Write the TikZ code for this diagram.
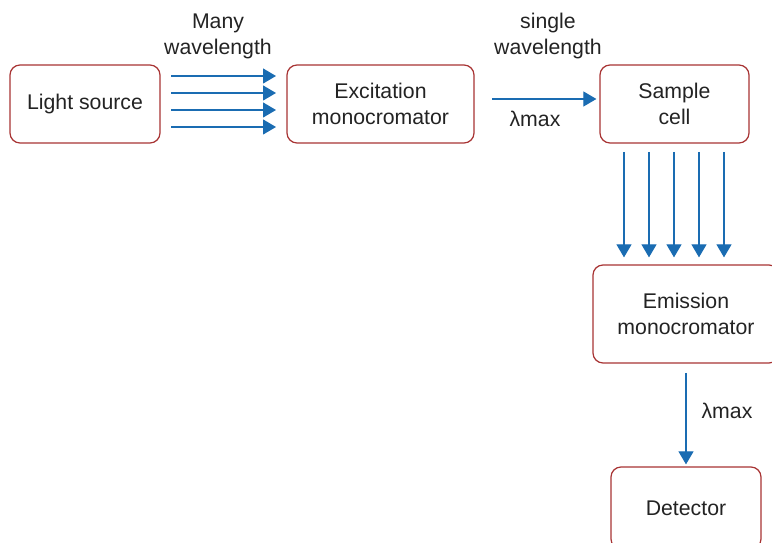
\documentclass[tikz,border=0pt]{standalone}
\usepackage{fontspec}
\setmainfont{Liberation Sans}
\usepackage{tikz}
\usetikzlibrary{arrows.meta}
\definecolor{boxred}{RGB}{168,52,52}
\definecolor{rayblue}{RGB}{26,108,178}
\definecolor{inkgrey}{RGB}{35,35,35}
\tikzstyle{unit}=[draw=boxred,line width=0.7pt,rounded corners=0.2cm,fill=white,text=inkgrey,align=center,inner sep=0pt]
\tikzstyle{ray}=[draw=rayblue,line width=0.65pt,-{Triangle[length=0.26cm,width=0.3cm]}]
\tikzstyle{note}=[text=inkgrey,align=center,inner sep=0pt]

\begin{document}
\begin{tikzpicture}[x=0.02cm,y=-0.02cm,font=\fontsize{12.1}{14.8}\selectfont]
  \useasboundingbox (0,0) rectangle (772,543);
  \begin{scope}
  \clip (0,0) rectangle (772,543);
  \foreach \place/\name/\w/\h/\txt in {{(85,104)/light/150/78/Light source},
                                        {(380.5,104)/excit/187/78/Excitation\\monocromator},
                                        {(674.5,104)/sample/149/78/Sample\\cell},
                                        {(686,314)/emis/186/98/Emission\\monocromator},
                                        {(686,508)/detect/150/82/Detector}}
    \node[unit,minimum width=\w*0.02cm,minimum height=\h*0.02cm] (\name) at \place {\txt};
  \end{scope}
  % many wavelengths into the excitation monochromator
  \foreach \y [count=\i] in {76,93,110,127} {
    \coordinate (many\i) at (171,\y);
    \coordinate (manyend\i) at (276,\y);
    \draw[ray] (many\i) -- (manyend\i);
  }
  \node[note] (manylbl) at (218,36) {Many\\wavelength};
  % single wavelength to the cell
  \coordinate (single) at (492,99);
  \draw[ray,shorten >=0.06cm] (single) -- (sample.west |- single);
  \node[note] (singlelbl) at (548,36) {single\\wavelength};
  \node[note] (lmaxa) at (535,119) {λmax};
  % emitted light down to the emission monochromator
  \foreach \x [count=\i] in {624,649,674,699,724} {
    \coordinate (emit\i) at (\x,152);
    \draw[ray,shorten >=0.14cm] (emit\i) -- (emit\i |- emis.north);
  }
  % emission monochromator to detector
  \coordinate (out) at (686,373);
  \draw[ray,shorten >=0.04cm] (out) -- (detect.north);
  \node[note] (lmaxb) at (727,411) {λmax};
\end{tikzpicture}
\end{document}
